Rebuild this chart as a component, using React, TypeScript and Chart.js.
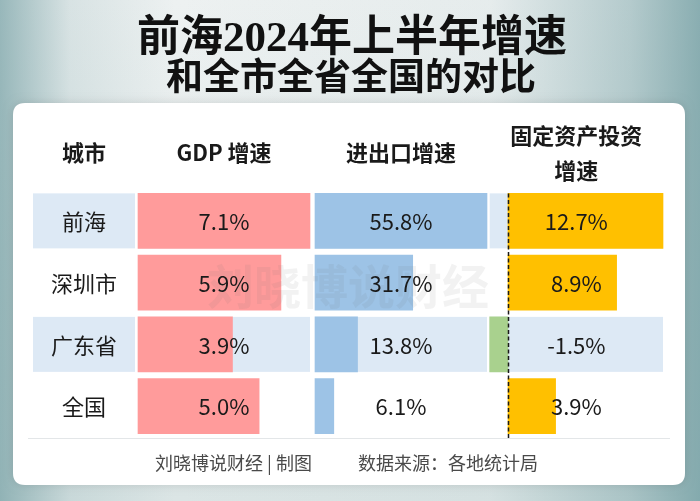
import { useEffect, useRef } from "react";
import { Chart, registerables } from "chart.js";

Chart.register(...registerables);

// ---------- data ----------
const cities = ["前海", "深圳市", "广东省", "全国"];
const gdpGrowth = [7.1, 5.9, 3.9, 5.0];
const tradeGrowth = [55.8, 31.7, 13.8, 6.1];
const investGrowth = [12.7, 8.9, -1.5, 3.9];
const headerCity = ["城市"];
const headerGdp = ["GDP 增速"];
const headerTrade = ["进出口增速"];
const headerInvest = ["固定资产投资", "增速"];
const titleLines = ["前海2024年上半年增速", "和全市全省全国的对比"];
const footerLeft = "刘晓博说财经 | 制图";
const footerRight = "数据来源：各地统计局";
const watermarkText = "刘晓博说财经";

// ---------- layout / style ----------
const W = 700;
const H = 501;
const SANS = '"Noto Sans CJK SC", "Noto Sans", sans-serif';
const BAR_H = 55;
const COLOR_GDP = "#ff9b9b";
const COLOR_TRADE = "#9dc3e6";
const COLOR_INV = "#ffc000";
const COLOR_NEG = "#a9d18e";
const COLOR_STRIPE = "#dde9f5";

function fitRange(v0: number, p0: number, v1: number, p1: number) {
  const k = (p1 - p0) / (v1 - v0);
  return { min: v0 - p0 / k, max: v0 + (W - p0) / k };
}

const gdpRange = fitRange(0, 138, Math.max(...gdpGrowth), 310);
const tradeRange = fitRange(0, 315, Math.max(...tradeGrowth), 487);
const invRange = fitRange(0, 508, Math.max(...investGrowth), 663);
const CITY_COL = [33, 135];

const fmt = (v: number) => `${v.toFixed(1)}%`;

function roundRect(ctx: CanvasRenderingContext2D, x: number, y: number, w: number, h: number, r: number) {
  ctx.beginPath();
  ctx.moveTo(x + r, y);
  ctx.lineTo(x + w - r, y);
  ctx.quadraticCurveTo(x + w, y, x + w, y + r);
  ctx.lineTo(x + w, y + h - r);
  ctx.quadraticCurveTo(x + w, y + h, x + w - r, y + h);
  ctx.lineTo(x + r, y + h);
  ctx.quadraticCurveTo(x, y + h, x, y + h - r);
  ctx.lineTo(x, y + r);
  ctx.quadraticCurveTo(x, y, x + r, y);
  ctx.closePath();
}

function colSpan(chart: any, id: string, values: number[]) {
  const s = chart.scales[id];
  const lo = s.getPixelForValue(Math.min(0, ...values));
  const hi = s.getPixelForValue(Math.max(0, ...values));
  return [lo, hi];
}

const tablePlugin = {
  id: "tablePlugin",
  beforeDraw(chart: any) {
    const { ctx } = chart;
    const y = chart.scales.y;
    ctx.save();
    // background
    const vg = ctx.createLinearGradient(0, 0, 0, H);
    vg.addColorStop(0, "#edf1f1");
    vg.addColorStop(1, "#dbe5e5");
    ctx.fillStyle = vg;
    ctx.fillRect(0, 0, W, H);
    const hg = ctx.createLinearGradient(0, 0, W, 0);
    hg.addColorStop(0, "rgba(95,145,150,0.6)");
    hg.addColorStop(0.1, "rgba(95,145,150,0.15)");
    hg.addColorStop(0.25, "rgba(95,145,150,0)");
    hg.addColorStop(0.7, "rgba(95,145,150,0.05)");
    hg.addColorStop(0.9, "rgba(95,145,150,0.4)");
    hg.addColorStop(1, "rgba(95,145,150,0.7)");
    ctx.fillStyle = hg;
    ctx.fillRect(0, 0, W, H);

    // card
    ctx.save();
    ctx.shadowColor = "rgba(0,0,0,0.12)";
    ctx.shadowBlur = 10;
    ctx.fillStyle = "#ffffff";
    roundRect(ctx, 13, 103, 672, 382, 12);
    ctx.fill();
    ctx.restore();

    // title
    ctx.fillStyle = "#111111";
    ctx.textAlign = "center";
    ctx.textBaseline = "middle";
    ctx.font = `bold 43px "Liberation Serif", "Noto Sans CJK SC", serif`;
    ctx.fillText(titleLines[0], 352, 40);
    ctx.font = `bold 37px "Liberation Serif", "Noto Sans CJK SC", serif`;
    ctx.fillText(titleLines[1], 351, 80);

    // column spans
    const gSpan = colSpan(chart, "xg", gdpGrowth);
    const tSpan = colSpan(chart, "xt", tradeGrowth);
    const iSpan = colSpan(chart, "xf", investGrowth);
    const spans = [CITY_COL, gSpan, tSpan, iSpan];

    // stripes
    ctx.fillStyle = COLOR_STRIPE;
    cities.forEach((_, i) => {
      if (i % 2 !== 0) return;
      const cy = y.getPixelForValue(i);
      spans.forEach(([a, b]) => ctx.fillRect(a, cy - BAR_H / 2, b - a, BAR_H));
    });

    // headers
    ctx.fillStyle = "#1a1a1a";
    ctx.font = `bold 22px ${SANS}`;
    const centers = spans.map(([a, b]) => (a + b) / 2);
    const headers = [headerCity, headerGdp, headerTrade, headerInvest];
    headers.forEach((lines, ci) => {
      if (lines.length === 1) {
        ctx.fillText(lines[0], centers[ci], 153);
      } else {
        ctx.fillText(lines[0], centers[ci], 136);
        ctx.fillText(lines[1], centers[ci], 171);
      }
    });

    // separator
    ctx.strokeStyle = "#e3e6e8";
    ctx.lineWidth = 1;
    ctx.beginPath();
    ctx.moveTo(28, chart.chartArea.bottom + 1.5);
    ctx.lineTo(670, chart.chartArea.bottom + 1.5);
    ctx.stroke();

    // footer
    ctx.fillStyle = "#4a4a4a";
    ctx.font = `18px ${SANS}`;
    ctx.textAlign = "left";
    ctx.fillText(footerLeft, 155, 463);
    ctx.fillText(footerRight, 358, 463);
    ctx.restore();
  },
  afterDatasetsDraw(chart: any) {
    const { ctx } = chart;
    const y = chart.scales.y;
    const gSpan = colSpan(chart, "xg", gdpGrowth);
    const tSpan = colSpan(chart, "xt", tradeGrowth);
    const iSpan = colSpan(chart, "xf", investGrowth);
    const cx = [CITY_COL, gSpan, tSpan, iSpan].map(([a, b]) => (a + b) / 2);
    ctx.save();

    // dashed zero line for investment
    const zx = Math.round(chart.scales.xf.getPixelForValue(0)) + 0.5;
    ctx.strokeStyle = "#1a1a1a";
    ctx.lineWidth = 1.5;
    ctx.setLineDash([4, 2.5]);
    ctx.beginPath();
    ctx.moveTo(zx, y.getPixelForValue(0) - BAR_H / 2);
    ctx.lineTo(zx, chart.chartArea.bottom + 1);
    ctx.stroke();
    ctx.setLineDash([]);

    // watermark
    ctx.fillStyle = "rgba(110,110,110,0.09)";
    ctx.font = `bold 47px ${SANS}`;
    ctx.textAlign = "center";
    ctx.textBaseline = "middle";
    ctx.fillText(watermarkText, 348, 286);

    // labels
    ctx.fillStyle = "#1a1a1a";
    ctx.font = `22px ${SANS}`;
    cities.forEach((c, i) => {
      const cy = y.getPixelForValue(i) + 1;
      ctx.fillText(c, cx[0], cy);
      ctx.fillText(fmt(gdpGrowth[i]), cx[1], cy);
      ctx.fillText(fmt(tradeGrowth[i]), cx[2], cy);
      ctx.fillText(fmt(investGrowth[i]), cx[3], cy);
    });
    ctx.restore();
  },
};

export default function App() {
  const ref = useRef<HTMLCanvasElement | null>(null);
  useEffect(() => {
    document.body.style.margin = "0";
    const canvas = ref.current;
    if (!canvas) return;
    const chart = new Chart(canvas, {
      type: "bar",
      data: {
        labels: cities,
        datasets: [
          {
            label: "GDP 增速",
            data: gdpGrowth,
            xAxisID: "xg",
            backgroundColor: COLOR_GDP,
          },
          {
            label: "进出口增速",
            data: tradeGrowth,
            xAxisID: "xt",
            backgroundColor: COLOR_TRADE,
          },
          {
            label: "固定资产投资增速",
            data: investGrowth,
            xAxisID: "xf",
            backgroundColor: investGrowth.map((v) => (v < 0 ? COLOR_NEG : COLOR_INV)),
          },
        ],
      },
      options: {
        indexAxis: "y",
        responsive: false,
        animation: false,
        devicePixelRatio: 1,
        events: [],
        layout: { padding: { top: 190, bottom: 64, left: 0, right: 0 } },
        datasets: {
          bar: {
            grouped: false,
            barThickness: BAR_H,
            borderWidth: 0,
          },
        },
        plugins: {
          legend: { display: false },
          tooltip: { enabled: false },
          title: { display: false },
        },
        scales: {
          y: { type: "category", display: false, offset: true },
          xg: { type: "linear", axis: "x", display: false, bounds: "data", min: gdpRange.min, max: gdpRange.max },
          xt: { type: "linear", axis: "x", display: false, bounds: "data", min: tradeRange.min, max: tradeRange.max },
          xf: { type: "linear", axis: "x", display: false, bounds: "data", min: invRange.min, max: invRange.max },
        },
      },
      plugins: [tablePlugin],
    } as any);
    return () => chart.destroy();
  }, []);
  return (
    <canvas
      ref={ref}
      width={W}
      height={H}
      style={{ position: "fixed", left: 0, top: 0, display: "block" }}
    />
  );
}
